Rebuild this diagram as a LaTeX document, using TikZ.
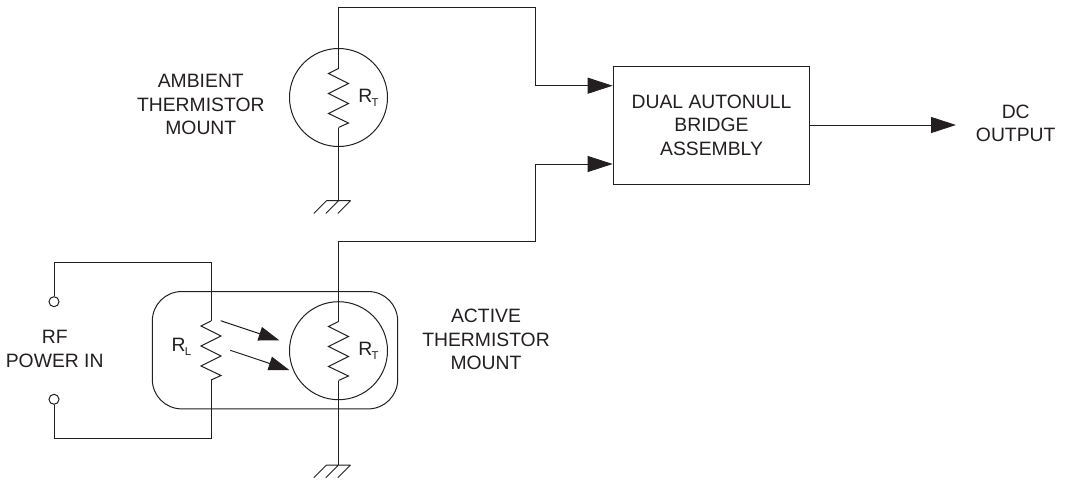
\documentclass[tikz,border=0pt]{standalone}
\usepackage{fontspec}
\setmainfont{Liberation Sans}
\usetikzlibrary{arrows.meta}
\definecolor{inkc}{HTML}{231F20}
\newcommand{\subR}[1]{R\kern-0.5pt\raisebox{-3pt}{\fontsize{8.5}{8.5}\selectfont #1}}
\newcommand{\zigzag}[2]{\draw[wire] (#1) -- ++(-10,5) -- ++(20,10) -- ++(-20,10) -- ++(20,10) -- ++(-20,10) -- ++(20,9.5) -- (#2);}
\newcommand{\earth}[1]{\draw[wire] (#1) ++(-12,0) -- ++(24,0)
  (#1) ++(-12,0) -- ++(-12.7,12.7) (#1) -- ++(-12.7,12.7) (#1) ++(12,0) -- ++(-12.7,12.7);}
\tikzset{
  wire/.style={draw=inkc,line width=0.75pt},
  arrowbig/.style={wire,-{Triangle[length=18.75pt,width=12pt]}},
  arrowray/.style={wire,-{Triangle[length=15.5pt,width=10.5pt]}},
  lbl/.style={align=center,text=inkc,font=\fontsize{14.5}{17.7}\selectfont,inner sep=0pt},
  mount/.style={circle,wire,minimum size=73.5pt,inner sep=0pt},
  term/.style={circle,wire,minimum size=7.5pt,inner sep=0pt}
}
\begin{document}
\begin{tikzpicture}[x=0.75pt,y=-0.75pt]
    \useasboundingbox (0,0) rectangle (1066,482);
    % bridge and output
    \node[wire,rectangle,minimum width=147.5pt,minimum height=88.5pt,inner sep=0pt,lbl,draw=inkc] (bridge) at (711.5,125) {DUAL AUTONULL\\BRIDGE\\ASSEMBLY};
    \coordinate (dcend) at (956,125);
    \draw[arrowbig] (bridge.east |- dcend) -- (dcend);
    \node[lbl] (dclabel) at (1015.7,123.4) {DC\\OUTPUT};
    % ambient mount
    \node[mount] (ambcircle) at (338.5,97.5) {};
    \coordinate (ambtop) at (338.5,68.5);
    \coordinate (ambbot) at (338.5,127.5);
    \coordinate (ambgnd) at (338.5,200.7);
    \coordinate (ambcorner) at (535,85.7);
    \coordinate (ambin) at (bridge.west |- ambcorner);
    \zigzag{ambtop}{ambbot}
    \draw[wire] (ambbot) -- (ambgnd);
    \earth{ambgnd}
    \draw[arrowbig] (ambtop) -- (338.5,7) -| (ambcorner) -- (ambin);
    \node[lbl] (amblabel) at (200.8,104.6) {AMBIENT\\THERMISTOR\\MOUNT};
    \node[lbl] (ambrt) at (368.5,98) {\subR{T}};
    % active mount
    \node[mount] (actcircle) at (338.5,350.7) {};
    \node[wire,rectangle,rounded corners=22pt,minimum width=184pt,minimum height=88pt,inner sep=0pt] (actbox) at (275,350.2) {};
    \coordinate (acttop) at (338.5,321.5);
    \coordinate (actbot) at (338.5,380.5);
    \coordinate (actgnd) at (338.5,465);
    \coordinate (actcorner) at (535,164);
    \coordinate (actin) at (bridge.west |- actcorner);
    \zigzag{acttop}{actbot}
    \draw[wire] (actbot) -- (actgnd);
    \earth{actgnd}
    \draw[arrowbig] (acttop) -- (338.5,241) -| (actcorner) -- (actin);
    \node[lbl] (actlabel) at (486,339.6) {ACTIVE\\THERMISTOR\\MOUNT};
    \node[lbl] (actrt) at (368.5,351) {\subR{T}};
    % load resistor and input
    \coordinate (loadtop) at (211,321);
    \coordinate (loadbot) at (211,380);
    \node[term] (rfplus) at (54,301.7) {};
    \node[term] (rfminus) at (54,399.3) {};
    \zigzag{loadtop}{loadbot}
    \draw[wire] (rfplus) -- (54,262.3) -| (loadtop);
    \draw[wire] (rfminus) -- (54,438.7) -| (loadbot);
    \node[lbl] (rflabel) at (54.7,349.2) {RF\\POWER IN};
    \node[lbl] (loadrl) at (181.5,346.5) {\subR{L}};
    % heat arrows
    \coordinate (rayastart) at (220.7,320.7);
    \coordinate (rayaend) at (279.3,340.3);
    \coordinate (raybstart) at (230.3,350.3);
    \coordinate (raybend) at (289.3,370);
    \draw[arrowray] (rayastart) -- (rayaend);
    \draw[arrowray] (raybstart) -- (raybend);
  \end{tikzpicture}
\end{document}
